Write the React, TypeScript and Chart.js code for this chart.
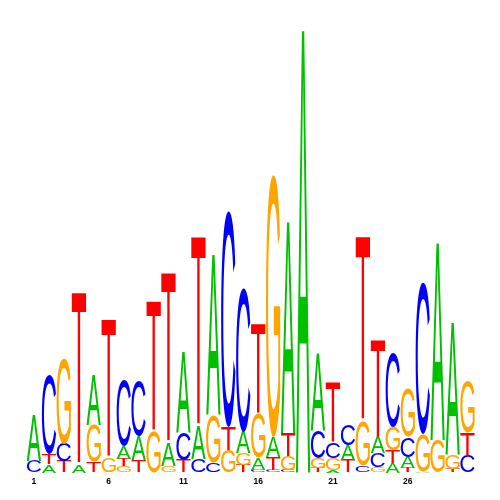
import React, { useEffect, useRef } from "react";
import { Chart, registerables } from "chart.js";

Chart.register(...registerables);

// Positions 1..30
const POSITIONS = Array.from({ length: 30 }, (_, i) => String(i + 1));

// Information content (bits) per letter and position
const A_BITS = [0.208, 0.036, 0, 0.036, 0.226, 0, 0.06, 0.11, 0, 0.106, 0.362, 0.149, 0.724, 0, 0.095, 0.054, 0.09, 0.955, 2.0, 0.348, 0.011, 0.068, 0, 0.072, 0.043, 0.05, 0.005, 0.891, 0.597, 0];
const C_BITS = [0.052, 0.357, 0.08, 0, 0, 0, 0.3, 0.25, 0, 0, 0.122, 0.061, 0.043, 0.977, 0.652, 0.011, 0.011, 0.011, 0, 0.127, 0.072, 0.095, 0.029, 0.063, 0.335, 0.09, 0.688, 0, 0, 0.079];
const G_BITS = [0, 0, 0.388, 0, 0.167, 0.066, 0.03, 0, 0.183, 0.03, 0, 0, 0.217, 0.1, 0.054, 0.204, 1.186, 0.063, 0, 0.045, 0.054, 0, 0.204, 0.025, 0.104, 0.222, 0.167, 0.147, 0.063, 0.231];
const T_BITS = [0, 0.045, 0.05, 0.776, 0.048, 0.624, 0.032, 0.055, 0.588, 0.765, 0.057, 0.855, 0, 0.105, 0.034, 0.403, 0.059, 0.104, 0, 0.02, 0.271, 0.057, 0.833, 0.439, 0.059, 0.02, 0, 0, 0.016, 0.1];

const LETTERS = ["A", "C", "G", "T"];
const LETTER_COLORS: Record<string, string> = {
  A: "#00C000",
  C: "#0000FF",
  G: "#FFA500",
  T: "#FF0000",
};
const Y_MAX_BITS = 2.0;

// Build stacks ordered by height (smallest at bottom)
function buildRanks() {
  const series = [A_BITS, C_BITS, G_BITS, T_BITS];
  const rankValues: number[][] = [[], [], [], []];
  const rankLetters: string[][] = [[], [], [], []];
  POSITIONS.forEach((_, i) => {
    const items = LETTERS.map((l, k) => ({ l, v: series[k][i] }));
    items.sort((a, b) => a.v - b.v);
    items.forEach((it, r) => {
      rankValues[r].push(it.v);
      rankLetters[r].push(it.l);
    });
  });
  return { rankValues, rankLetters };
}

function drawLetter(ctx: CanvasRenderingContext2D, letter: string, x0: number, y0: number, w: number, h: number) {
  ctx.save();
  ctx.font = "100px 'Liberation Sans', Arial, sans-serif";
  ctx.textAlign = "left";
  ctx.textBaseline = "alphabetic";
  const m = ctx.measureText(letter);
  const gw = m.actualBoundingBoxLeft + m.actualBoundingBoxRight;
  const gh = m.actualBoundingBoxAscent + m.actualBoundingBoxDescent;
  ctx.translate(x0, y0);
  ctx.scale(w / gw, h / gh);
  ctx.fillStyle = LETTER_COLORS[letter];
  ctx.fillText(letter, m.actualBoundingBoxLeft, m.actualBoundingBoxAscent);
  ctx.restore();
}

export default function App() {
  const ref = useRef<HTMLCanvasElement | null>(null);

  useEffect(() => {
    if (!ref.current) return;
    const { rankValues, rankLetters } = buildRanks();

    const logoPlugin = {
      id: "logoLetters",
      afterDatasetsDraw(chart: any) {
        const ctx = chart.ctx as CanvasRenderingContext2D;
        chart.data.datasets.forEach((ds: any, r: number) => {
          const meta = chart.getDatasetMeta(r);
          meta.data.forEach((bar: any, i: number) => {
            const p = bar.getProps(["x", "y", "base", "width"], true);
            const top = Math.min(p.y, p.base);
            const h = Math.abs(p.base - p.y);
            if (h < 0.3) return;
            drawLetter(ctx, ds.letters[i], p.x - p.width / 2, top, p.width, h);
          });
        });
      },
    };

    const chart = new Chart(ref.current, {
      type: "bar",
      data: {
        labels: POSITIONS,
        datasets: rankValues.map((vals, r) => ({
          label: "rank" + r,
          data: vals,
          letters: rankLetters[r],
          backgroundColor: "rgba(0,0,0,0)",
          borderWidth: 0,
          categoryPercentage: 1,
          barPercentage: 0.96,
        })) as any,
      },
      options: {
        animation: false,
        responsive: false,
        devicePixelRatio: 1,
        layout: { padding: { left: 26.5, right: 25, top: 30, bottom: 0 } },
        plugins: { legend: { display: false }, tooltip: { enabled: false } },
        scales: {
          x: {
            stacked: true,
            grid: { display: false, drawTicks: false },
            border: { display: false },
            ticks: {
              autoSkip: false,
              maxRotation: 0,
              padding: 4,
              color: "#000",
              font: { family: "'Liberation Sans', Arial, sans-serif", size: 8.5, weight: "bold" },
              callback: (_v: any, idx: number) => (idx % 5 === 0 ? POSITIONS[idx] : ""),
            },
            afterFit: (scale: any) => {
              scale.height = 27.5;
            },
          },
          y: {
            stacked: true,
            display: false,
            min: 0,
            max: Y_MAX_BITS,
          },
        },
      },
      plugins: [logoPlugin],
    });
    return () => chart.destroy();
  }, []);

  return (
    <div style={{ position: "fixed", left: 0, top: 0, width: 500, height: 500, background: "#fff" }}>
      <canvas ref={ref} width={500} height={500} />
    </div>
  );
}
